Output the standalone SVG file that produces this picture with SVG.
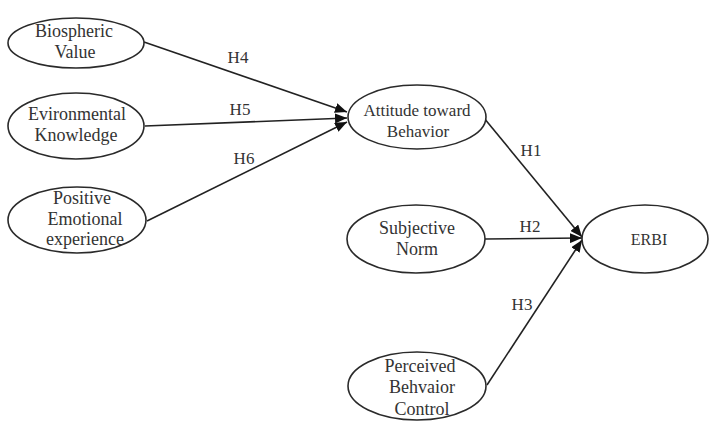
<svg xmlns="http://www.w3.org/2000/svg" width="710" height="422" viewBox="0 0 710 422">
<defs>
<style>
.n{fill:#fff;stroke:#2a2a2a;stroke-width:1.6}
.t{font-family:"Liberation Serif","Times New Roman",serif;font-size:18px;fill:#333;text-anchor:middle}
.c{stroke:#222;stroke-width:1.6;fill:none;marker-end:url(#ah)}
.l{font-family:"Liberation Serif","Times New Roman",serif;font-size:17px;fill:#333;text-anchor:middle}
</style>
<marker id="ah" viewBox="0 0 12 10" refX="12" refY="5" markerWidth="12" markerHeight="10" markerUnits="userSpaceOnUse" orient="auto">
<path d="M0,0 L12,5 L0,10 Z" fill="#111"/>
</marker>
</defs>
<rect width="710" height="422" fill="#fff"/>
<g id="connectors">
<line class="c" x1="144" y1="42" x2="347" y2="112"/>
<line class="c" x1="145" y1="126" x2="347" y2="118"/>
<line class="c" x1="147" y1="221" x2="347" y2="122"/>
<line class="c" x1="484" y1="118" x2="582" y2="237"/>
<line class="c" x1="485" y1="239" x2="582" y2="238"/>
<line class="c" x1="487" y1="385" x2="582" y2="240"/>
<text class="l" x="238" y="63">H4</text>
<text class="l" x="240" y="115">H5</text>
<text class="l" x="244" y="164">H6</text>
<text class="l" x="531" y="156">H1</text>
<text class="l" x="530" y="232">H2</text>
<text class="l" x="522" y="310">H3</text>
</g>
<g id="biospheric">
<ellipse class="n" cx="76" cy="43" rx="68" ry="25"/>
<text class="t" x="74" y="37">Biospheric</text>
<text class="t" x="75" y="58">Value</text>
</g>
<g id="environmental">
<ellipse class="n" cx="76" cy="126" rx="68" ry="33"/>
<text class="t" x="77" y="120">Evironmental</text>
<text class="t" x="76" y="141">Knowledge</text>
</g>
<g id="positive">
<ellipse class="n" cx="77" cy="220" rx="69" ry="33"/>
<text class="t" x="82" y="204">Positive</text>
<text class="t" x="85" y="224.5">Emotional</text>
<text class="t" x="85" y="245">experience</text>
</g>
<g id="attitude">
<ellipse class="n" cx="417" cy="117" rx="69" ry="32"/>
<text class="t" x="417" y="116" style="font-size:17px">Attitude toward</text>
<text class="t" x="418" y="137" style="font-size:17px">Behavior</text>
</g>
<g id="subjective">
<ellipse class="n" cx="416" cy="239" rx="69" ry="34"/>
<text class="t" x="417" y="234">Subjective</text>
<text class="t" x="417" y="255">Norm</text>
</g>
<g id="erbi">
<ellipse class="n" cx="645" cy="239" rx="63" ry="34"/>
<text class="t" x="649" y="245" style="font-size:16px">ERBI</text>
</g>
<g id="perceived">
<ellipse class="n" cx="417" cy="386" rx="69" ry="34"/>
<text class="t" x="420" y="372">Perceived</text>
<text class="t" x="422" y="393">Behvaior</text>
<text class="t" x="422" y="415">Control</text>
</g>
</svg>
